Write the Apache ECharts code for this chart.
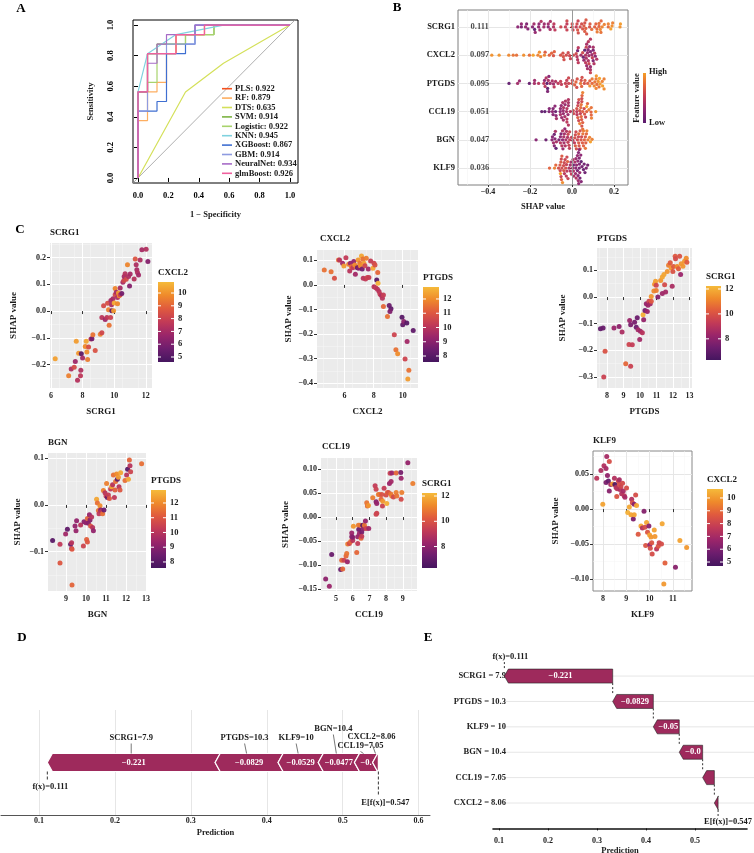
<!DOCTYPE html>
<html>
<head>
<meta charset="utf-8">
<script src="https://cdn.jsdelivr.net/npm/echarts@6/dist/echarts.min.js"></script>
<style>html,body{margin:0;padding:0;background:#fff}#main{width:754px;height:853px}</style>
</head>
<body>
<div id="main"></div>
<script>
// ---------- A: ROC curves ----------
const rocModels = ['PLS', 'RF', 'DTS', 'SVM', 'Logistic', 'KNN', 'XGBoost', 'GBM', 'NeuralNet', 'glmBoost'];
const rocAuc = ['0.922', '0.879', '0.635', '0.914', '0.922', '0.945', '0.867', '0.914', '0.934', '0.926'];
const rocPoints = [
  [[0,0],[0,0.5625],[0.0625,0.5625],[0.0625,0.8125],[0.25,0.8125],[0.25,0.9375],[0.4375,0.9375],[0.4375,1],[1,1]],
  [[0,0],[0,0.375],[0.0625,0.375],[0.0625,0.5625],[0.125,0.5625],[0.125,0.625],[0.1875,0.625],[0.1875,0.8125],[0.25,0.8125],[0.25,0.9375],[0.4375,0.9375],[0.4375,1],[1,1]],
  [[0,0],[0.3125,0.5625],[0.5625,0.75],[1,1]],
  [[0,0],[0,0.5625],[0.0625,0.5625],[0.0625,0.8125],[0.125,0.8125],[0.125,0.875],[0.3125,0.875],[0.3125,0.9375],[0.5,0.9375],[0.5,1],[1,1]],
  [[0,0],[0,0.5625],[0.0625,0.5625],[0.0625,0.625],[0.125,0.625],[0.125,0.875],[0.3125,0.875],[0.3125,0.9375],[0.5,0.9375],[0.5,1],[1,1]],
  [[0,0],[0,0.5625],[0.0625,0.8125],[0.25,0.9375],[0.5625,1],[1,1]],
  [[0,0],[0,0.4375],[0.125,0.4375],[0.125,0.5],[0.1875,0.5],[0.1875,0.8125],[0.3125,0.8125],[0.3125,0.875],[0.375,0.875],[0.375,1],[1,1]],
  [[0,0],[0,0.4375],[0.0625,0.4375],[0.0625,0.8125],[0.1875,0.8125],[0.1875,0.875],[0.375,0.875],[0.375,1],[1,1]],
  [[0,0],[0,0.5625],[0.0625,0.5625],[0.0625,0.75],[0.125,0.75],[0.125,0.875],[0.1875,0.875],[0.1875,0.9375],[0.375,0.9375],[0.375,1],[1,1]],
  [[0,0],[0,0.5625],[0.0625,0.5625],[0.0625,0.8125],[0.25,0.8125],[0.25,0.9375],[0.4375,0.9375],[0.4375,1],[1,1]]
];
const chanceLine = [[-0.1, -0.1], [1.1, 1.1]];

// ---------- B: SHAP summary ----------
const shapFeatures = ['SCRG1', 'CXCL2', 'PTGDS', 'CCL19', 'BGN', 'KLF9'];
const meanAbsShap = ['0.111', '0.097', '0.095', '0.051', '0.047', '0.036'];

// ---------- C: dependence plots [feature value, SHAP value, interaction feature value] ----------
const depSCRG1 = [[6.27,-0.178,10.3],[7.12,-0.241,9.6],[7.28,-0.216,7.2],[7.47,-0.210,8.3],[7.54,-0.188,6.8],[7.60,-0.113,10.2],[7.68,-0.258,7.4],[7.75,-0.157,10.1],[7.87,-0.241,7.6],[7.89,-0.221,7.3],[7.92,-0.159,5.2],[8.00,-0.175,7.0],[8.17,-0.132,9.8],[8.23,-0.113,10.4],[8.27,-0.153,9.9],[8.32,-0.181,9.5],[8.38,-0.134,8.4],[8.53,-0.104,7.8],[8.59,-0.103,5.8],[8.65,-0.088,9.3],[8.80,-0.147,8.5],[9.12,-0.086,9.6],[9.22,-0.081,8.2],[9.22,-0.024,7.5],[9.33,0.020,8.3],[9.43,-0.031,6.8],[9.54,-0.024,7.6],[9.58,0.029,8.4],[9.64,0.005,9.6],[9.68,-0.053,9.3],[9.77,-0.024,8.0],[9.79,0.039,7.0],[9.83,0.024,7.2],[9.85,0.001,5.3],[9.92,0.046,7.0],[9.96,0.001,10.1],[10.00,0.030,10.5],[10.06,0.061,8.2],[10.06,0.084,9.7],[10.13,0.070,7.0],[10.21,0.027,9.8],[10.21,0.051,7.2],[10.27,0.067,10.2],[10.32,0.057,9.9],[10.38,0.061,8.0],[10.38,0.086,7.0],[10.48,0.066,5.8],[10.55,0.108,7.0],[10.61,0.114,8.2],[10.63,0.129,7.0],[10.69,0.139,7.4],[10.76,0.119,8.3],[10.84,0.173,9.7],[10.91,0.129,7.2],[10.97,0.094,6.2],[11.01,0.138,7.0],[11.26,0.120,7.4],[11.33,0.194,8.6],[11.39,0.173,7.2],[11.43,0.154,7.0],[11.47,0.144,7.3],[11.54,0.135,6.9],[11.64,0.191,7.2],[11.75,0.229,7.0],[12.02,0.231,7.3],[12.13,0.185,6.2]];
const depCXCL2 = [[4.60,0.061,11.5],[5.07,0.054,11.5],[5.30,0.027,10.8],[5.58,0.101,11.5],[5.65,0.101,10.0],[5.86,0.088,9.5],[5.95,0.077,12.3],[6.09,0.111,10.2],[6.28,0.084,11.8],[6.35,0.057,10.0],[6.40,0.088,9.3],[6.47,0.074,11.5],[6.56,0.070,10.2],[6.63,0.095,9.2],[6.70,0.081,12.0],[6.74,0.043,9.5],[6.81,0.074,11.8],[6.88,0.070,8.3],[6.93,0.101,12.2],[6.98,0.068,9.0],[7.05,0.088,11.6],[7.09,0.078,12.0],[7.16,0.118,12.5],[7.21,0.065,8.6],[7.26,0.105,11.5],[7.28,0.027,10.0],[7.33,0.088,12.3],[7.40,0.078,10.5],[7.44,0.024,10.2],[7.49,0.108,11.7],[7.56,0.030,10.5],[7.63,0.065,9.5],[7.67,0.030,10.3],[7.79,0.097,10.3],[7.95,0.068,12.5],[8.02,0.088,10.5],[8.09,0.081,10.8],[8.02,-0.007,10.0],[8.14,-0.011,10.2],[8.21,0.020,8.0],[8.28,0.051,11.3],[8.30,0.007,12.7],[8.26,-0.018,10.0],[8.37,-0.027,10.0],[8.44,-0.038,10.3],[8.53,-0.043,9.8],[8.60,-0.054,10.0],[8.67,-0.041,10.3],[8.67,-0.088,11.3],[8.95,-0.128,11.5],[9.07,-0.084,8.4],[9.19,-0.097,8.2],[9.12,-0.108,8.8],[9.42,-0.203,10.5],[9.53,-0.264,11.5],[9.65,-0.280,12.0],[9.95,-0.131,8.0],[10.00,-0.162,8.2],[10.07,-0.149,9.0],[10.16,-0.301,10.5],[10.28,-0.155,8.0],[10.30,-0.230,9.5],[10.42,-0.347,11.5],[10.35,-0.382,12.3],[10.72,-0.185,8.2]];
const depPTGDS = [[7.60,-0.119,7.0],[7.76,-0.116,7.2],[7.80,-0.300,9.5],[7.88,-0.203,10.0],[8.42,-0.116,8.3],[8.73,-0.110,8.0],[8.91,-0.131,8.7],[9.13,-0.250,10.5],[9.33,-0.178,9.6],[9.37,-0.088,8.3],[9.43,-0.104,7.6],[9.43,-0.259,9.5],[9.53,-0.179,9.3],[9.67,-0.094,7.5],[9.77,-0.113,7.3],[9.83,-0.078,7.3],[9.88,-0.123,8.5],[9.98,-0.159,8.5],[10.02,-0.128,8.4],[10.14,-0.134,9.0],[10.18,-0.066,12.0],[10.22,-0.085,8.2],[10.30,-0.050,7.4],[10.38,-0.025,8.2],[10.44,-0.054,8.3],[10.48,-0.031,8.3],[10.54,-0.016,9.6],[10.62,-0.025,8.5],[10.68,0.002,11.5],[10.68,-0.016,10.2],[10.84,0.023,11.2],[10.88,0.048,11.5],[10.94,0.059,11.7],[10.98,0.025,11.0],[10.98,0.044,9.6],[11.08,0.000,7.8],[11.25,0.062,11.5],[11.35,0.075,11.8],[11.35,0.013,8.4],[11.45,0.085,11.8],[11.49,0.046,9.8],[11.55,0.019,8.5],[11.65,0.096,11.5],[11.73,0.119,11.0],[11.83,0.129,10.2],[11.89,0.109,11.5],[11.95,0.041,8.7],[11.99,0.096,10.0],[12.03,0.115,10.2],[12.13,0.153,10.2],[12.15,0.144,9.8],[12.25,0.115,11.2],[12.33,0.106,10.3],[12.40,0.153,10.0],[12.46,0.085,8.3],[12.50,0.125,11.5],[12.60,0.116,11.5],[12.70,0.134,11.5],[12.80,0.146,11.3],[12.84,0.131,10.2]];
const depBGN = [[8.33,-0.076,8.0],[8.70,-0.084,10.2],[8.70,-0.124,11.0],[8.98,-0.062,9.5],[9.07,-0.052,8.2],[9.23,-0.084,8.3],[9.28,-0.081,10.0],[9.28,-0.093,10.2],[9.30,-0.095,11.0],[9.30,-0.171,11.3],[9.45,-0.045,9.2],[9.50,-0.055,9.3],[9.53,-0.034,9.2],[9.73,-0.043,10.0],[9.87,-0.088,10.5],[9.90,-0.036,9.0],[10.00,-0.038,9.2],[10.03,-0.074,11.2],[10.07,-0.029,11.3],[10.07,-0.079,11.0],[10.12,-0.039,9.0],[10.17,-0.021,9.3],[10.20,-0.032,9.0],[10.23,-0.045,11.0],[10.28,-0.026,10.0],[10.33,-0.048,10.0],[10.37,-0.055,9.2],[10.53,0.012,12.5],[10.57,0.004,11.5],[10.62,-0.012,11.5],[10.65,-0.019,10.2],[10.70,-0.002,12.0],[10.73,-0.011,9.0],[10.78,-0.014,10.0],[10.83,-0.019,11.5],[10.87,0.031,11.8],[10.90,-0.011,8.5],[10.95,0.026,10.0],[11.00,0.019,10.3],[11.03,0.046,11.8],[11.07,0.016,8.3],[11.12,0.021,10.3],[11.17,0.014,11.0],[11.23,0.034,10.2],[11.28,0.039,12.5],[11.33,0.043,10.0],[11.37,0.064,11.5],[11.42,0.016,10.2],[11.45,0.032,11.2],[11.48,0.050,11.5],[11.53,0.066,12.0],[11.57,0.055,8.2],[11.62,0.059,12.3],[11.65,0.039,10.0],[11.70,0.032,11.0],[11.73,0.069,12.5],[11.95,0.052,11.5],[12.03,0.064,10.0],[12.08,0.076,8.0],[12.12,0.055,12.5],[12.17,0.096,11.3],[12.20,0.084,10.0],[12.23,0.071,10.5],[12.78,0.088,11.5]];
const depCCL19 = [[4.38,-0.129,8.0],[4.60,-0.144,8.3],[4.74,-0.078,7.2],[5.28,-0.109,7.2],[5.34,-0.090,10.5],[5.40,-0.108,10.5],[5.48,-0.090,9.5],[5.60,-0.081,10.5],[5.68,-0.093,8.3],[5.64,-0.076,10.8],[5.70,-0.056,11.0],[5.80,-0.055,9.8],[5.88,-0.051,10.5],[5.94,-0.033,8.3],[5.94,-0.041,8.0],[6.00,-0.049,9.0],[6.00,-0.042,7.8],[6.04,-0.019,11.5],[6.24,-0.074,10.5],[6.30,-0.055,9.3],[6.30,-0.041,8.2],[6.34,-0.017,11.0],[6.36,-0.026,7.2],[6.40,-0.034,8.3],[6.44,-0.017,10.8],[6.50,-0.044,10.5],[6.54,-0.031,7.5],[6.54,-0.040,9.3],[6.60,-0.017,6.8],[6.64,-0.024,8.0],[6.70,-0.017,10.8],[6.76,-0.008,8.2],[6.80,-0.024,9.6],[6.84,0.030,10.8],[6.88,0.023,10.6],[6.94,0.024,11.5],[6.96,-0.024,8.4],[7.20,0.040,11.0],[7.34,0.065,9.3],[7.40,0.058,9.5],[7.40,0.032,7.8],[7.44,0.028,8.2],[7.44,0.008,9.5],[7.40,0.006,9.6],[7.54,0.047,11.0],[7.60,0.047,10.8],[7.70,0.037,10.5],[7.74,0.047,10.0],[7.78,0.023,9.5],[7.80,0.033,11.5],[7.88,0.060,9.3],[8.00,0.046,9.8],[8.04,0.028,12.0],[8.08,0.051,10.5],[8.14,0.051,10.0],[8.20,0.070,8.3],[8.24,0.091,9.5],[8.28,0.048,10.8],[8.30,0.074,8.5],[8.34,0.044,11.0],[8.34,0.092,8.3],[8.44,0.042,9.8],[8.60,0.092,10.5],[8.60,0.051,11.0],[8.64,0.044,10.8],[8.88,0.093,7.5],[8.90,0.081,8.3],[8.94,0.051,11.0],[8.90,0.037,9.8],[9.30,0.113,8.2],[9.60,0.070,11.0]];
const depKLF9 = [[7.73,0.044,7.5],[7.91,0.055,7.2],[7.99,0.007,10.2],[8.04,0.062,7.3],[8.13,0.058,7.0],[8.16,0.075,7.0],[8.13,0.038,6.0],[8.19,0.048,6.5],[8.23,0.040,5.5],[8.27,0.068,8.3],[8.27,0.026,6.3],[8.33,0.035,7.0],[8.41,0.036,10.0],[8.49,0.044,7.3],[8.51,0.035,5.0],[8.56,0.031,7.3],[8.59,0.018,8.5],[8.61,0.029,7.5],[8.66,0.040,8.0],[8.70,0.035,8.3],[8.70,0.042,7.0],[8.73,0.028,7.2],[8.77,0.032,8.0],[8.80,0.022,7.3],[8.84,0.037,8.2],[8.87,0.026,7.0],[8.91,0.019,7.5],[8.94,0.017,7.0],[9.01,0.030,8.3],[9.06,-0.005,10.5],[9.13,0.003,10.3],[9.20,-0.008,10.2],[9.23,0.014,7.3],[9.26,0.009,8.3],[9.30,-0.014,6.0],[9.34,-0.008,10.2],[9.34,0.007,6.3],[9.40,0.020,8.3],[9.44,0.005,10.3],[9.51,-0.036,8.6],[9.63,-0.024,10.3],[9.69,-0.027,7.3],[9.76,-0.003,6.2],[9.80,-0.026,8.3],[9.83,-0.052,8.5],[9.87,-0.019,10.3],[9.91,-0.033,8.5],[9.97,-0.024,6.3],[10.00,-0.037,10.2],[10.01,-0.051,6.5],[10.03,-0.056,8.3],[10.06,-0.040,10.0],[10.09,-0.048,8.5],[10.11,-0.064,8.3],[10.20,-0.030,10.2],[10.23,-0.039,10.0],[10.30,-0.057,7.5],[10.37,-0.053,8.5],[10.41,-0.048,8.0],[10.51,-0.050,8.3],[10.54,-0.021,10.3],[10.66,-0.077,8.8],[10.61,-0.107,10.0],[11.11,-0.083,6.3],[11.30,-0.045,10.2],[11.59,-0.055,10.0]];
const depFeatures = ['SCRG1', 'CXCL2', 'PTGDS', 'BGN', 'CCL19', 'KLF9'];
const depColorBy = ['CXCL2', 'PTGDS', 'SCRG1', 'PTGDS', 'SCRG1', 'CXCL2'];
const depColorRange = [[4.61, 10.86], [7.58, 12.84], [6.3, 12.24], [7.59, 12.88], [6.3, 12.24], [4.69, 10.7]];
const depColorStep = [1, 1, 2, 1, 2, 1];

// ---------- D / E: force and waterfall plots for one sample ----------
const forceNames = ['SCRG1', 'PTGDS', 'KLF9', 'BGN', 'CCL19', 'CXCL2'];
const forceValues = ['7.9', '10.3', '10', '10.4', '7.05', '8.06'];
const forceContrib = [-0.221, -0.0829, -0.0529, -0.0477, -0.0239, -0.0076];
const fxValue = 0.111;
const efxValue = 0.547;

// ---------------------------------------------------------------
const FONT = 'Liberation Serif';
const TXT = '#1a1a1a';
const MAROON = '#9E2A5C';
const cPalette = ['#45165F', '#6D1D6E', '#9A256A', '#C23A57', '#E05A3E', '#EF8A2B', '#F5BA3A'];
const bPalette = ['#5A1B6E', '#8B2270', '#BD3556', '#E2603A', '#F49E26'];
const rocColors = ['#F4511E', '#FDAE61', '#D4E05A', '#7CB342', '#A8D36C', '#80D2DF', '#3F6FD1', '#8E9BE0', '#A66BC7', '#F0609E'];

function niceTicks(min, max, step) {
  const out = [];
  const k0 = Math.ceil(min / step - 1e-9), k1 = Math.floor(max / step + 1e-9);
  for (let k = k0; k <= k1; k++) out.push(+(k * step).toFixed(6));
  return out;
}
function fmt(v, d) {
  const s = Math.abs(v).toFixed(d);
  return (v < -1e-9 ? '\u2212' : '') + s;
}
const bold = (size) => 'bold ' + size + 'px "' + FONT + '"';
const tickText = { fontFamily: FONT, fontWeight: 'bold', fontSize: 8, color: '#222' };
const nameText = { fontFamily: FONT, fontWeight: 'bold', fontSize: 9, color: TXT };

const grids = [], xAxes = [], yAxes = [], series = [], visualMaps = [], graphics = [];

// ---------- A ----------
grids.push({ left: 133, top: 20, width: 165, height: 163, show: true, borderColor: '#000', borderWidth: 1, outerBoundsMode: 'none' });
xAxes.push({
  gridIndex: 0, type: 'value', min: -0.033, max: 1.053,
  splitLine: { show: false }, axisLine: { show: false },
  axisTick: { length: 4, lineStyle: { color: '#000' }, customValues: niceTicks(-0.033, 1.053, 0.2) },
  axisLabel: { ...tickText, fontSize: 8.5, color: '#000', margin: 8, customValues: niceTicks(-0.033, 1.053, 0.2), formatter: v => fmt(v, 1) },
  name: '1 \u2212 Specificity', nameLocation: 'middle', nameGap: 27, nameTextStyle: { ...nameText, fontSize: 8.5 }, nameMoveOverlap: false
});
yAxes.push({
  gridIndex: 0, type: 'value', min: -0.033, max: 1.033,
  splitLine: { show: false }, axisLine: { show: false },
  axisTick: { length: 4, lineStyle: { color: '#000' }, customValues: niceTicks(-0.033, 1.033, 0.2) },
  axisLabel: { ...tickText, fontSize: 8.5, color: '#000', margin: 18, rotate: 90, customValues: niceTicks(-0.033, 1.033, 0.2), formatter: v => fmt(v, 1) },
  name: 'Sensitivity', nameLocation: 'middle', nameGap: 38, nameRotate: 90, nameTextStyle: { ...nameText, fontSize: 8.5 }, nameMoveOverlap: false
});
rocModels.forEach((m, i) => {
  series.push({
    name: m, type: 'line', xAxisIndex: 0, yAxisIndex: 0, data: rocPoints[i], showSymbol: false, symbol: 'none',
    lineStyle: { color: rocColors[i], width: 1.2 }, itemStyle: { color: rocColors[i] }, z: 3 + i * 0.01
  });
});
series.push({ type: 'line', xAxisIndex: 0, yAxisIndex: 0, data: chanceLine, showSymbol: false, symbol: 'none', clip: true,
  lineStyle: { color: '#9a9a9a', width: 0.8 }, z: 2 });

// ---------- B ----------
const bX = [-0.543, 0.267];
grids.push({ left: 458, top: 10, width: 170, height: 175, show: true, borderColor: '#7f7f7f', borderWidth: 1, outerBoundsMode: 'none' });
xAxes.push({
  gridIndex: 1, type: 'value', min: bX[0], max: bX[1], splitNumber: 5,
  axisLine: { show: false },
  splitLine: { show: true, lineStyle: { color: '#E6E6E6', width: 1 } },
  minorTick: { show: false, splitNumber: 2 }, minorSplitLine: { show: true, lineStyle: { color: '#F3F3F3', width: 0.6 } },
  axisTick: { length: 2, lineStyle: { color: '#333' }, customValues: [-0.4, -0.2, 0, 0.2] },
  axisLabel: { ...tickText, margin: 3, customValues: [-0.4, -0.2, 0, 0.2], formatter: v => fmt(v, 1) },
  name: 'SHAP value', nameLocation: 'middle', nameGap: 17, nameTextStyle: { ...nameText, fontSize: 8.5 }, nameMoveOverlap: false
});
yAxes.push({
  gridIndex: 1, type: 'value', min: 0.4, max: 6.6,
  axisLine: { show: false },
  splitLine: { show: true, lineStyle: { color: '#E6E6E6', width: 1 } },
  axisTick: { length: 2, lineStyle: { color: '#333' }, customValues: [1, 2, 3, 4, 5, 6] },
  axisLabel: { ...tickText, fontSize: 8.5, color: TXT, margin: 3, customValues: [1, 2, 3, 4, 5, 6], formatter: v => shapFeatures[6 - Math.round(v)] }
});
// beeswarm offsets (layout only): pack dots of each row around its centre line
function swarmOffsets(xs, pxPerX, dot) {
  const idx = xs.map((_, i) => i).sort((a, b) => xs[a] - xs[b]);
  const placed = [], off = new Array(xs.length).fill(0);
  for (const i of idx) {
    const px = xs[i] * pxPerX;
    let best = 0;
    for (let k = 0; k < 400; k++) {
      const cand = (k % 2 ? 1 : -1) * Math.ceil(k / 2) * 0.5;
      let ok = true;
      for (const p of placed) {
        if (Math.abs(p.x - px) < dot && Math.hypot(p.x - px, p.y - cand) < dot) { ok = false; break; }
      }
      if (ok) { best = cand; break; }
    }
    placed.push({ x: px, y: best });
    off[i] = best;
  }
  return off;
}
const bSource = { SCRG1: depSCRG1, CXCL2: depCXCL2, PTGDS: depPTGDS, CCL19: depCCL19, BGN: depBGN, KLF9: depKLF9 };
const pxX = 170 / (bX[1] - bX[0]), pxY = 175 / 6.2;
const bPts = [];
shapFeatures.forEach((f, r) => {
  const arr = bSource[f];
  const fv = arr.map(d => d[0]);
  const lo = Math.min(...fv), hi = Math.max(...fv);
  const off = swarmOffsets(arr.map(d => d[1]), pxX, 3.0);
  arr.forEach((d, j) => bPts.push([d[1], 6 - r + off[j] / pxY, (d[0] - lo) / (hi - lo)]));
});
const bSeriesIndex = series.length;
series.push({
  type: 'scatter', xAxisIndex: 1, yAxisIndex: 1, data: bPts, symbolSize: 3.3, itemStyle: { opacity: 0.95 }, z: 4,
  markLine: { silent: true, symbol: 'none', label: { show: false }, lineStyle: { color: '#9a9a9a', type: 'solid', width: 1 }, data: [{ xAxis: 0 }] }
});
visualMaps.push({ type: 'continuous', show: false, seriesIndex: bSeriesIndex, dimension: 2, min: 0, max: 1, inRange: { color: bPalette } });
series.push({
  type: 'scatter', xAxisIndex: 1, yAxisIndex: 1, symbolSize: 0, silent: true,
  data: meanAbsShap.map((_, r) => [-0.44, 6 - r]),
  label: { show: true, position: 'inside', formatter: p => meanAbsShap[p.dataIndex], ...tickText, fontSize: 8.5, color: TXT }
});

// ---------- C ----------
const depData = [depSCRG1, depCXCL2, depPTGDS, depBGN, depCCL19, depKLF9];
const cLay = [
  { left: 50, top: 243, width: 102, height: 145, x: [5.94, 12.39], y: [-0.287, 0.254], xs: 2, ys: 0.1, yd: 1, gap: 32, bar: [158, 282, 16, 80], tx: 50, ty: 233 },
  { left: 317, top: 250, width: 101, height: 138, x: [4.1, 11.05], y: [-0.419, 0.142], xs: 2, ys: 0.1, yd: 1, gap: 24, bar: [423, 287, 16, 75], tx: 320, ty: 239 },
  { left: 597, top: 248, width: 95, height: 140, x: [7.39, 13.15], y: [-0.341, 0.184], xs: 1, ys: 0.1, yd: 1, gap: 30, bar: [706, 286, 15, 74], tx: 597, ty: 239 },
  { left: 48, top: 453, width: 99, height: 138, x: [8.1, 13.05], y: [-0.184, 0.111], xs: 1, ys: 0.1, yd: 1, gap: 26, bar: [151, 490, 15, 78], tx: 48, ty: 443, ySplit: 3 },
  { left: 321, top: 458, width: 96, height: 133, x: [4.1, 9.85], y: [-0.154, 0.123], xs: 1, ys: 0.05, yd: 2, gap: 31, bar: [422, 493, 15, 75], tx: 322, ty: 447 },
  { left: 593, top: 451, width: 99, height: 140, x: [7.57, 11.82], y: [-0.117, 0.083], xs: 1, ys: 0.05, yd: 2, gap: 33, bar: [707, 489, 16, 77], tx: 593, ty: 441, bw: true }
];
cLay.forEach((c, k) => {
  const gi = 2 + k;
  const major = c.bw ? '#E6E6E6' : '#FFFFFF';
  const minor = c.bw ? '#F4F4F4' : '#F7F7F7';
  grids.push({ left: c.left, top: c.top, width: c.width, height: c.height, show: true,
    backgroundColor: c.bw ? '#FFFFFF' : '#EBEBEB', borderColor: c.bw ? '#888' : '#EBEBEB', borderWidth: c.bw ? 1 : 0, outerBoundsMode: 'none' });
  const xt = niceTicks(c.x[0], c.x[1], c.xs), yt = niceTicks(c.y[0], c.y[1], c.ys);
  xAxes.push({
    gridIndex: gi, type: 'value', min: c.x[0], max: c.x[1], splitNumber: 5,
    axisLine: { show: false },
    splitLine: { show: true, lineStyle: { color: major, width: 1 } },
    minorTick: { show: false, splitNumber: 2 }, minorSplitLine: { show: true, lineStyle: { color: minor, width: 0.5 } },
    axisTick: { length: 3, lineStyle: { color: '#333' }, customValues: xt },
    axisLabel: { ...tickText, margin: 4, customValues: xt, formatter: v => String(Math.round(v)) },
    name: depFeatures[k], nameLocation: 'middle', nameGap: 19, nameTextStyle: nameText, nameMoveOverlap: false
  });
  yAxes.push({
    gridIndex: gi, type: 'value', min: c.y[0], max: c.y[1], splitNumber: c.ySplit || 5,
    axisLine: { show: false },
    splitLine: { show: true, lineStyle: { color: major, width: 1 } },
    minorTick: { show: false, splitNumber: 2 }, minorSplitLine: { show: true, lineStyle: { color: minor, width: 0.5 } },
    axisTick: { length: 3, lineStyle: { color: '#333' }, customValues: yt },
    axisLabel: { ...tickText, margin: 4, customValues: yt, formatter: v => fmt(v, c.yd) },
    name: 'SHAP value', nameLocation: 'middle', nameGap: c.gap, nameRotate: 90, nameTextStyle: nameText, nameMoveOverlap: false
  });
  const si = series.length;
  series.push({ type: 'scatter', xAxisIndex: gi, yAxisIndex: gi, data: depData[k], symbolSize: 5, itemStyle: { opacity: 0.95 }, z: 4 });
  const cr = depColorRange[k];
  visualMaps.push({ type: 'continuous', show: false, seriesIndex: si, dimension: 2, min: cr[0], max: cr[1], inRange: { color: cPalette } });

  // panel title
  graphics.push({ type: 'text', x: c.tx, y: c.ty, style: { text: depFeatures[k], font: bold(9), fill: TXT, align: 'left', verticalAlign: 'middle' } });
  // colour bar
  const [bx, by, bw, bh] = c.bar;
  const stops = cPalette.slice().reverse().map((col, i, a) => ({ offset: i / (a.length - 1), color: col }));
  graphics.push({ type: 'rect', shape: { x: bx, y: by, width: bw, height: bh }, style: { fill: new echarts.graphic.LinearGradient(0, 0, 0, 1, stops) }, z: 10 });
  graphics.push({ type: 'text', x: bx, y: by - 9, style: { text: depColorBy[k], font: bold(9), fill: TXT, align: 'left', verticalAlign: 'middle' }, z: 10 });
  niceTicks(cr[0], cr[1], depColorStep[k]).forEach(v => {
    const yy = by + bh * (cr[1] - v) / (cr[1] - cr[0]);
    graphics.push({ type: 'line', shape: { x1: bx, y1: yy, x2: bx + 3, y2: yy }, style: { stroke: '#fff', lineWidth: 1 }, z: 11 });
    graphics.push({ type: 'line', shape: { x1: bx + bw - 3, y1: yy, x2: bx + bw, y2: yy }, style: { stroke: '#fff', lineWidth: 1 }, z: 11 });
    graphics.push({ type: 'text', x: bx + bw + 4, y: yy, style: { text: String(v), font: bold(8.5), fill: TXT, align: 'left', verticalAlign: 'middle' }, z: 10 });
  });
});

// ---------- D: force plot ----------
const nF = forceNames.length;
const segs = [];
let acc = fxValue;
forceContrib.forEach((c, i) => { segs.push([acc, acc - c, i, 0.5]); acc = acc - c; });
const forceLabelShift = [[0, -11], [-2, -11], [-2, -11], [-3, -20], [-3, -3], [-4, -12]];

grids.push({ left: 1, top: 710, width: 429, height: 105, outerBoundsMode: 'none' });
xAxes.push({
  gridIndex: 8, type: 'value', min: 0.05, max: 0.615, splitNumber: 5,
  axisLine: { show: true, lineStyle: { color: '#555', width: 1 } },
  splitLine: { show: true, lineStyle: { color: '#E6E6E6', width: 1 } },
  axisTick: { show: false, customValues: niceTicks(0.05, 0.615, 0.1) },
  axisLabel: { ...tickText, margin: 2, customValues: niceTicks(0.05, 0.615, 0.1), formatter: v => fmt(v, 1) },
  name: 'Prediction', nameLocation: 'middle', nameGap: 13, nameTextStyle: { ...nameText, fontSize: 8.5 }, nameMoveOverlap: false
});
yAxes.push({ gridIndex: 8, type: 'value', min: 0, max: 1, show: false });

function renderForce(params, api) {
  const i = api.value(2);
  const s = api.coord([api.value(0), 0.5]), e = api.coord([api.value(1), 0.5]);
  const h = 18, a = 5, yc = s[1], top = yc - h / 2, bot = yc + h / 2;
  const last = i === nF - 1;
  const pts = last
    ? [[s[0], yc], [s[0] + a, top], [e[0], top], [e[0], bot], [s[0] + a, bot]]
    : [[s[0], yc], [s[0] + a, top], [e[0] + a, top], [e[0], yc], [e[0] + a, bot], [s[0] + a, bot]];
  const cx = (s[0] + e[0]) / 2;
  const children = [{ type: 'polygon', shape: { points: pts }, style: { fill: MAROON, stroke: '#fff', lineWidth: 1.2 } }];
  const w = e[0] - s[0] - 3;
  if (w > 12) {
    children.push({ type: 'text', x: cx + a / 2, y: yc, style: { text: '\u2212' + Math.abs(forceContrib[i]).toPrecision(3), fill: '#fff', font: bold(8.5),
      align: 'center', verticalAlign: 'middle', width: w, overflow: 'truncate', ellipsis: '' } });
  }
  const [dx, dy] = forceLabelShift[i];
  children.push({ type: 'text', x: cx + dx, y: top + dy, style: { text: forceNames[i] + '=' + forceValues[i], fill: TXT, font: bold(8.5), align: 'center', verticalAlign: 'bottom' } });
  children.push({ type: 'line', shape: { x1: cx + dx, y1: top + dy + 1, x2: cx, y2: top }, style: { stroke: '#555', lineWidth: 0.8 } });
  if (i === 0) {
    children.push({ type: 'line', shape: { x1: s[0], y1: bot, x2: s[0], y2: bot + 9 }, style: { stroke: '#333', lineWidth: 1, lineDash: [3, 2] } });
    children.push({ type: 'text', x: s[0] + 3, y: bot + 15, style: { text: 'f(x)=' + fxValue, fill: TXT, font: bold(8.5), align: 'center', verticalAlign: 'middle' } });
  }
  if (last) {
    children.push({ type: 'line', shape: { x1: e[0], y1: bot, x2: e[0], y2: bot + 24 }, style: { stroke: '#333', lineWidth: 1, lineDash: [3, 2] } });
    children.push({ type: 'text', x: e[0] + 7, y: bot + 31, style: { text: 'E[f(x)]=' + efxValue, fill: TXT, font: bold(8.5), align: 'center', verticalAlign: 'middle' } });
  }
  return { type: 'group', children };
}
series.push({ type: 'custom', xAxisIndex: 8, yAxisIndex: 8, data: segs, encode: { x: [0, 1], y: 3 }, renderItem: renderForce, clip: false, z: 5 });

// ---------- E: waterfall ----------
grids.push({ left: 493, top: 655, width: 254, height: 180, outerBoundsMode: 'none' });
xAxes.push({
  gridIndex: 9, type: 'value', min: 0.0878, max: 0.606, splitNumber: 5,
  axisLine: { show: true, lineStyle: { color: '#111', width: 1.6 } },
  splitLine: { show: false },
  axisTick: { show: true, length: 2, lineStyle: { color: '#111' }, customValues: niceTicks(0.0878, 0.59, 0.1) },
  axisLabel: { ...tickText, margin: 2, customValues: niceTicks(0.0878, 0.59, 0.1), formatter: v => fmt(v, 1) },
  name: 'Prediction', nameLocation: 'middle', nameGap: 11, nameTextStyle: { ...nameText, fontSize: 8.5 }, nameMoveOverlap: false
});
yAxes.push({ gridIndex: 9, type: 'value', min: -0.26, max: 6.83, show: false });
const wSegs = segs.map(d => [d[0], d[1], d[2], nF - d[2]]);

function renderWaterfall(params, api) {
  const i = api.value(2), row = api.value(3);
  const s = api.coord([api.value(0), row]), e = api.coord([api.value(1), row]);
  const h = 14, a = 4, yc = s[1], top = yc - h / 2, bot = yc + h / 2;
  const x01 = api.coord([0.1, row])[0];
  const children = [];
  children.push({ type: 'line', shape: { x1: x01 + 4, y1: yc, x2: api.getWidth(), y2: yc }, style: { stroke: '#E6E6E6', lineWidth: 1 } });
  children.push({ type: 'text', x: x01 + 7, y: yc, style: { text: forceNames[i] + ' = ' + forceValues[i], fill: '#222', font: bold(8.5), align: 'right', verticalAlign: 'middle' } });
  children.push({ type: 'polygon', shape: { points: [[s[0], yc], [s[0] + a, top], [e[0], top], [e[0], bot], [s[0] + a, bot]] },
    style: { fill: MAROON, stroke: '#222', lineWidth: 0.6 } });
  const w = e[0] - s[0] - 4;
  if (w > 14) {
    children.push({ type: 'text', x: (s[0] + e[0]) / 2 + a / 2, y: yc, style: { text: '\u2212' + Math.abs(forceContrib[i]).toPrecision(3), fill: '#fff', font: bold(8.5),
      align: 'center', verticalAlign: 'middle', width: w, overflow: 'truncate', ellipsis: '' } });
  }
  if (i < nF - 1) {
    const nextTop = api.coord([0, row - 1])[1] - h / 2;
    children.push({ type: 'line', shape: { x1: e[0], y1: bot, x2: e[0], y2: nextTop }, style: { stroke: '#333', lineWidth: 1, lineDash: [2, 2] } });
  } else {
    children.push({ type: 'line', shape: { x1: e[0], y1: bot, x2: e[0], y2: bot + 6 }, style: { stroke: '#333', lineWidth: 1, lineDash: [2, 2] } });
    children.push({ type: 'text', x: e[0] + 10, y: bot + 12, style: { text: 'E[f(x)]=' + efxValue, fill: TXT, font: bold(8.5), align: 'center', verticalAlign: 'middle' } });
  }
  if (i === 0) {
    children.push({ type: 'line', shape: { x1: s[0], y1: top - 7, x2: s[0], y2: top }, style: { stroke: '#333', lineWidth: 1, lineDash: [2, 2] } });
    children.push({ type: 'text', x: s[0] + 6, y: top - 12, style: { text: 'f(x)=' + fxValue, fill: TXT, font: bold(8.5), align: 'center', verticalAlign: 'middle' } });
  }
  return { type: 'group', children };
}
series.push({ type: 'custom', xAxisIndex: 9, yAxisIndex: 9, data: wSegs, encode: { x: [0, 1], y: 3 }, renderItem: renderWaterfall, clip: false, z: 5 });

// ---------- B colour bar + panel letters ----------
const bStops = bPalette.slice().reverse().map((col, i, a) => ({ offset: i / (a.length - 1), color: col }));
graphics.push({ type: 'rect', shape: { x: 643, y: 73, width: 3, height: 50 }, style: { fill: new echarts.graphic.LinearGradient(0, 0, 0, 1, bStops) } });
graphics.push({ type: 'text', x: 649, y: 72, style: { text: 'High', font: bold(8.5), fill: TXT, align: 'left', verticalAlign: 'middle' } });
graphics.push({ type: 'text', x: 649, y: 123, style: { text: 'Low', font: bold(8.5), fill: TXT, align: 'left', verticalAlign: 'middle' } });
graphics.push({ type: 'text', x: 637, y: 98, rotation: Math.PI / 2, style: { text: 'Feature value', font: bold(8.5), fill: TXT, align: 'center', verticalAlign: 'middle' } });
[['A', 21, 9], ['B', 397, 8], ['C', 20, 230], ['D', 22, 638], ['E', 428, 638]].forEach(([t, x, y]) => {
  graphics.push({ type: 'text', x, y, style: { text: t, font: bold(13), fill: '#000', align: 'center', verticalAlign: 'middle' } });
});

const chart = echarts.init(document.getElementById('main'), null, { renderer: 'canvas' });
chart.setOption({
  animation: false,
  backgroundColor: '#fff',
  textStyle: { fontFamily: FONT },
  grid: grids,
  xAxis: xAxes,
  yAxis: yAxes,
  legend: {
    left: 222, top: 84, orient: 'vertical', itemGap: 0, itemWidth: 10, itemHeight: 1.6, icon: 'rect', padding: 0,
    data: rocModels,
    formatter: name => name + ': ' + rocAuc[rocModels.indexOf(name)],
    textStyle: { fontFamily: FONT, fontWeight: 'bold', fontSize: 8.5, color: TXT, lineHeight: 9.4, height: 9.4, padding: [0, 0, 0, -2] }
  },
  visualMap: visualMaps,
  series: series,
  graphic: graphics
});
</script>
</body>
</html>
